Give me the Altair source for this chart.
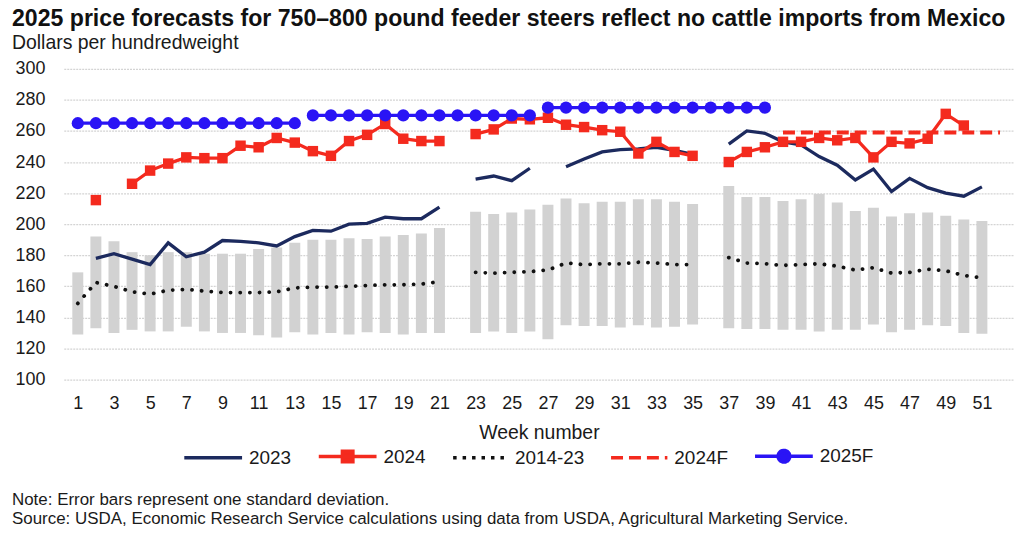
import altair as alt
import pandas as pd

# ---------------- data ----------------
weeks = list(range(1, 52))

y2023 = [None, 178, 181, 177.5, 174, 188, 179, 182, 189.5, 189,
         188, 186, 192, 196, 195.5, 200, 200.5, 204.5, 203.5, 203.5,
         211, None, 229, 231, 228, 236, None, 237, 242, 246.5,
         248, 248.5, 249.5, 247.5, 245, None, 251.5, 260, 258.5, 253,
         251, 243.5, 238, 228.5, 235.5, 221, 229.5, 223.5, 220, 218,
         224]

y2024 = [None, 215.5, None, 226, 234.5, 239, 243, 242.5, 242.5, 250.5,
         249.5, 255.5, 252.5, 247, 244, 253.5, 257.5, 264.5, 255, 253.5,
         253.5, None, 258, 261, 268, 267.5, 268.5, 264, 262.5, 260.5,
         259.5, 245.5, 253, 246.5, 244, None, 240, 246.5, 249.5, 253,
         253, 255.5, 254, 255.5, 243, 253, 252, 255, 271, 263.5,
         None]

avg_2014_23 = [149, 162.5, 160, 156.5, 155, 157.5, 158, 157, 156, 156,
               156, 156.5, 159, 159.5, 159.5, 160, 160.5, 161, 161, 161.5,
               163, None, 169, 168.5, 169, 169.5, 170.5, 175, 174, 174.5,
               174.5, 175.5, 175, 174, 174, None, 178.5, 175, 174.5, 173.5,
               174, 174.5, 173, 170.5, 172, 168.5, 169, 171, 170, 167,
               165.5]

sd_low = [129, 133, 130, 132, 131, 131, 134, 131, 130, 130,
          128.5, 127, 130.5, 129, 130, 129, 130.5, 130, 129, 130,
          130, None, 130, 131, 130, 131, 126, 135, 134.5, 134.5,
          133.5, 135, 133.5, 134, 135.5, None, 133, 132.5, 132.5, 132,
          132, 131, 132, 132, 135.5, 130.5, 132, 135, 134.5, 130,
          129.5]

sd_high = [169, 192, 189, 182, 180, 182, 182, 181, 181, 181,
           184, 185, 188, 190, 190, 191, 190.5, 192, 193, 194,
           197.5, None, 208, 206.5, 207.5, 209.5, 212.5, 216.5, 213.5, 214.5,
           214.5, 216, 216, 214.5, 213, None, 224.5, 217.5, 217.5, 215,
           216, 219.5, 214, 208.5, 210.5, 205, 207, 207.5, 205.5, 203,
           202]

f2024_weeks = [40, 41, 42, 43, 44, 45, 46, 47, 48, 49, 50, 51, 52]
f2024 = [259, 259, 259, 259, 259, 259, 259, 259, 259, 259, 259, 259, 259]

f2025_q1_weeks = [1, 2, 3, 4, 5, 6, 7, 8, 9, 10, 11, 12, 13]
f2025_q1 = [265, 265, 265, 265, 265, 265, 265, 265, 265, 265, 265, 265, 265]
f2025_q2_weeks = [14, 15, 16, 17, 18, 19, 20, 21, 22, 23, 24, 25, 26]
f2025_q2 = [270, 270, 270, 270, 270, 270, 270, 270, 270, 270, 270, 270, 270]
f2025_q3_weeks = [27, 28, 29, 30, 31, 32, 33, 34, 35, 36, 37, 38, 39]
f2025_q3 = [275, 275, 275, 275, 275, 275, 275, 275, 275, 275, 275, 275, 275]

series_names = ["2023", "2024", "2014-23", "2024F", "2025F"]
series_colors = ["#1c2a5e", "#f42a1e", "#111111", "#f42a1e", "#2a14f5"]

title_text = "2025 price forecasts for 750\u2013800 pound feeder steers reflect no cattle imports from Mexico"
subtitle_text = "Dollars per hundredweight"
note_lines = ["Note: Error bars represent one standard deviation.",
              "Source: USDA, Economic Research Service calculations using data from USDA, Agricultural Marketing Service."]


# ---------------- tables ----------------
def segments(name, wk, vals):
    rows, seg, prev = [], 0, None
    for w, v in zip(wk, vals):
        if v is None:
            prev = None
            continue
        if prev is None or w != prev + 1:
            seg += 1
        rows.append({"series": name, "week": w, "value": v, "seg": f"{name}-{seg}"})
        prev = w
    return pd.DataFrame(rows)


df2023 = segments("2023", weeks, y2023)
df2024 = segments("2024", weeks, y2024)
dfavg = segments("2014-23", weeks, avg_2014_23)
df24f = segments("2024F", f2024_weeks, f2024)
df25f = pd.concat([
    segments("2025F-a", f2025_q1_weeks, f2025_q1),
    segments("2025F-b", f2025_q2_weeks, f2025_q2),
    segments("2025F-c", f2025_q3_weeks, f2025_q3),
])
dfbar = pd.DataFrame({"week": weeks, "low": sd_low, "high": sd_high}).dropna()
dflegend = pd.DataFrame({"series": series_names})

FONT = "Liberation Sans"
TXT = "#1a1a1a"

X = alt.X("week:Q", scale=alt.Scale(domain=[0.5, 52.5], nice=False, zero=False),
          axis=alt.Axis(values=list(range(1, 52, 2)), title="Week number", grid=False))
Y = alt.Y("value:Q", scale=alt.Scale(domain=[100, 300], nice=False, zero=False),
          axis=alt.Axis(values=list(range(100, 301, 20)), title=None, grid=True))

bars = alt.Chart(dfbar).mark_bar(color="#d2d2d2", size=11).encode(
    x=X,
    y=alt.Y("low:Q", scale=alt.Scale(domain=[100, 300], nice=False, zero=False),
            axis=alt.Axis(values=list(range(100, 301, 20)), title=None, grid=True)),
    y2="high:Q",
)

avg_line = alt.Chart(dfavg).mark_line(
    color="#111111", strokeWidth=3.8, strokeDash=[0.1, 9.6], strokeCap="round"
).encode(x=X, y=Y, detail="seg:N")

line2023 = alt.Chart(df2023).mark_line(color="#1c2a5e", strokeWidth=3.3).encode(
    x=X, y=Y, detail="seg:N")

line24f = alt.Chart(df24f).mark_line(color="#f42a1e", strokeWidth=4, strokeDash=[12, 6]).encode(
    x=X, y=Y, detail="seg:N")

line2024 = alt.Chart(df2024).mark_line(color="#f42a1e", strokeWidth=3.3).encode(
    x=X, y=Y, detail="seg:N")
pts2024 = alt.Chart(df2024).mark_point(shape="square", filled=True, size=110,
                                        color="#f42a1e", opacity=1).encode(x=X, y=Y)

line25f = alt.Chart(df25f).mark_line(color="#2a14f5", strokeWidth=3.3).encode(
    x=X, y=Y, detail="seg:N")
pts25f = alt.Chart(df25f).mark_point(shape="circle", filled=True, size=150,
                                      color="#2a14f5", opacity=1).encode(x=X, y=Y)

# legend-only layer (its points sit off canvas to the left)
shape_paths = [
    "M-1,0H1",
    "M-1,0H1M-0.18,-0.18H0.18V0.18H-0.18Z",
    "M-0.9,0H1",
    "M-0.95,0H1",
    "M-1,0H1M-0.2,0a0.2,0.2 0 1,0 0.4,0a0.2,0.2 0 1,0 -0.4,0Z",
]
dash_range = [[1, 0], [1, 0], [3.5, 6], [12, 6], [1, 0]]
sc = alt.Scale(domain=series_names, range=series_colors)
leg = alt.Legend(title=None, orient="none", legendX=119, legendY=358, direction="horizontal",
                 symbolSize=3364, symbolStrokeWidth=3.6, labelFont=FONT, labelFontSize=19,
                 labelColor=TXT, labelOffset=5, columnPadding=19, padding=0)
legend_layer = alt.Chart(dflegend).mark_point(filled=True, opacity=1, strokeWidth=3.6).encode(
    x=alt.value(-3000), y=alt.value(150),
    fill=alt.Fill("series:N", scale=sc, legend=leg, sort=series_names),
    stroke=alt.Stroke("series:N", scale=sc, legend=leg, sort=series_names),
    shape=alt.Shape("series:N", scale=alt.Scale(domain=series_names, range=shape_paths),
                    legend=leg, sort=series_names),
    strokeDash=alt.StrokeDash("series:N", scale=alt.Scale(domain=series_names, range=dash_range),
                              legend=leg, sort=series_names),
)

note1 = alt.Chart(pd.DataFrame({"t": [note_lines[0]]})).mark_text(
    align="left", baseline="alphabetic", font=FONT, fontSize=17, color=TXT
).encode(x=alt.value(-52), y=alt.value(437.5), text="t:N")
note2 = alt.Chart(pd.DataFrame({"t": [note_lines[1]]})).mark_text(
    align="left", baseline="alphabetic", font=FONT, fontSize=17, color=TXT
).encode(x=alt.value(-52), y=alt.value(457), text="t:N")

chart = alt.layer(
    bars, avg_line, line2023, line24f, line2024, pts2024, line25f, pts25f,
    legend_layer, note1, note2
).properties(
    width=954, height=312,
    autosize=alt.AutoSizeParams(type="none"),
    padding={"left": 56, "top": 60, "right": 2, "bottom": 155},
    title=alt.Title(title_text, subtitle=subtitle_text, anchor="start", frame="group",
                    dx=-52, offset=6, font=FONT, fontSize=23.2, fontWeight="bold",
                    color="#111111", subtitleFont=FONT, subtitleFontSize=19.5,
                    subtitleColor=TXT, subtitlePadding=3),
).configure_view(stroke=None).configure_axis(
    labelFont=FONT, labelFontSize=18, labelColor=TXT, domain=False, ticks=False,
    titleFont=FONT, titleFontSize=19.5, titleFontWeight="normal", titleColor=TXT,
    gridColor="#d4d4d4", gridDash=[2, 1], gridWidth=1.2,
).configure_axisY(labelPadding=19).configure_axisX(labelPadding=15, titlePadding=11)

chart.save("out.html", embed_options={"renderer": "svg", "actions": False})
